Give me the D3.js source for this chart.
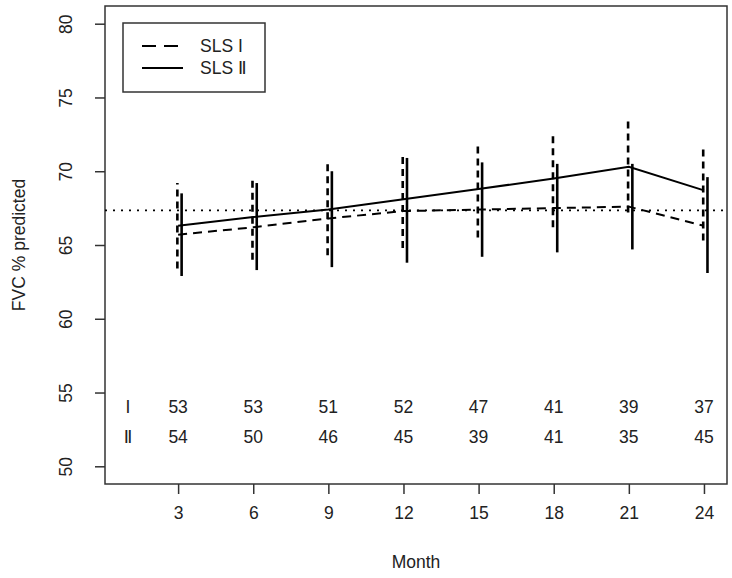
<!DOCTYPE html>
<html>
<head>
<meta charset="utf-8">
<script src="https://cdn.jsdelivr.net/npm/d3@7"></script>
<style>
  body { margin: 0; background: #fff; }
  text { font-family: "Liberation Sans", Arial, "DejaVu Sans", sans-serif; fill: #222; }
</style>
</head>
<body>
<div id="chart"></div>
<script>
// data
var months = [3, 6, 9, 12, 15, 18, 21, 24];
var sls1Mean = [65.7, 66.2, 66.8, 67.3, 67.4, 67.5, 67.6, 66.3];
var sls1Lo   = [63.4, 64.0, 64.3, 64.8, 65.5, 66.2, 67.2, 65.3];
var sls1Hi   = [69.2, 69.7, 70.5, 71.3, 72.0, 72.7, 73.5, 71.8];
var sls2Mean = [66.3, 66.9, 67.4, 68.1, 68.8, 69.5, 70.3, 68.7];
var sls2Lo   = [62.9, 63.3, 63.5, 63.8, 64.2, 64.5, 64.7, 63.1];
var sls2Hi   = [68.5, 69.2, 70.0, 70.9, 70.6, 70.5, 70.5, 69.6];
var nI  = [53, 53, 51, 52, 47, 41, 39, 37];
var nII = [54, 50, 46, 45, 39, 41, 35, 45];
var yTicks = [50, 55, 60, 65, 70, 75, 80];
var refLine = 67.35;
var seriesNames = ["SLS I", "SLS \u2161"];
var rowLabels = ["I", "\u2161"];

var W = 732, H = 578;
var box = {left: 105, right: 727, top: 6, bottom: 484};
var fs = "17.5px";

var svg = d3.select("#chart").append("svg")
    .attr("width", W)
    .attr("height", H);

var x = d3.scaleLinear().domain([0.08, 24.92]).range([box.left, box.right]);
var y = d3.scaleLinear().domain([48.8, 81.2]).range([box.bottom, box.top]);

const dash = "9,6";

// axes
const xAxis = d3.axisBottom(x).tickValues(months).tickSize(10).tickPadding(13);
const xg = svg.append("g").attr("transform", `translate(0, ${box.bottom})`).call(xAxis);
const yAxis = d3.axisLeft(y).tickValues(yTicks).tickSize(10).tickPadding(0);
const yg = svg.append("g").attr("transform", `translate(${box.left}, 0)`).call(yAxis);

[xg, yg].forEach(g => {
  g.select(".domain").remove();
  g.selectAll(".tick line").attr("stroke", "#333").attr("stroke-width", 1.5);
  g.selectAll(".tick text").attr("font-size", fs).attr("fill", "#222");
});
yg.selectAll(".tick text")
  .attr("x", null).attr("dy", null)
  .attr("text-anchor", "middle")
  .attr("transform", "translate(-39,0) rotate(-90)")
  .attr("dy", "0.35em");

// plot box
svg.append("rect")
  .attr("x", box.left).attr("y", box.top)
  .attr("width", box.right - box.left).attr("height", box.bottom - box.top)
  .attr("fill", "none").attr("stroke", "#333").attr("stroke-width", 1.5);

// axis titles
svg.append("text")
  .attr("transform", `translate(19, ${(box.top + box.bottom) / 2}) rotate(-90)`)
  .attr("text-anchor", "middle").attr("dy", "0.35em")
  .attr("font-size", fs)
  .text("FVC % predicted");
svg.append("text")
  .attr("x", (box.left + box.right) / 2).attr("y", 562)
  .attr("text-anchor", "middle").attr("dy", "0.35em")
  .attr("font-size", fs)
  .text("Month");

// reference dotted line
svg.append("line")
  .attr("x1", box.left).attr("x2", box.right)
  .attr("y1", y(refLine)).attr("y2", y(refLine))
  .attr("stroke", "#000").attr("stroke-width", 1.8)
  .attr("stroke-dasharray", "2,6");

// error bars
const barI = months.map((m, i) => ({m: m, lo: sls1Lo[i], hi: sls1Hi[i]}));
const barII = months.map((m, i) => ({m: m, lo: sls2Lo[i], hi: sls2Hi[i]}));

svg.append("g").selectAll("line").data(barI).join("line")
  .attr("x1", d => x(d.m - 0.03)).attr("x2", d => x(d.m - 0.03))
  .attr("y1", d => y(d.lo)).attr("y2", d => y(d.hi))
  .attr("stroke", "#000").attr("stroke-width", 2.6)
  .attr("stroke-dasharray", "7,5");

svg.append("g").selectAll("line").data(barII).join("line")
  .attr("x1", d => x(d.m + 0.14)).attr("x2", d => x(d.m + 0.14))
  .attr("y1", d => y(d.lo)).attr("y2", d => y(d.hi))
  .attr("stroke", "#000").attr("stroke-width", 2.6);

// mean lines
const line = d3.line().x(d => x(d[0])).y(d => y(d[1]));

svg.append("path")
  .datum(months.map((m, i) => [m, sls1Mean[i]]))
  .attr("d", line).attr("fill", "none")
  .attr("stroke", "#000").attr("stroke-width", 2)
  .attr("stroke-dasharray", dash);

svg.append("path")
  .datum(months.map((m, i) => [m, sls2Mean[i]]))
  .attr("d", line).attr("fill", "none")
  .attr("stroke", "#000").attr("stroke-width", 2);

// number at risk rows
const rows = [nI, nII];
const rowY = [54, 52];
rows.forEach((r, k) => {
  svg.append("text")
    .attr("x", x(1)).attr("y", y(rowY[k]))
    .attr("text-anchor", "middle").attr("dy", "0.35em")
    .attr("font-size", fs)
    .text(rowLabels[k]);
  svg.append("g").selectAll("text").data(r).join("text")
    .attr("x", (d, i) => x(months[i])).attr("y", y(rowY[k]))
    .attr("text-anchor", "middle").attr("dy", "0.35em")
    .attr("font-size", fs)
    .text(d => d);
});

// legend
const lg = svg.append("g").attr("transform", "translate(123, 23)");
lg.append("rect")
  .attr("width", 142).attr("height", 69)
  .attr("fill", "#fff").attr("stroke", "#333").attr("stroke-width", 1.5);
seriesNames.forEach((name, i) => {
  const ly = 23 + i * 22;
  lg.append("line")
    .attr("x1", 19).attr("x2", 60).attr("y1", ly).attr("y2", ly)
    .attr("stroke", "#000").attr("stroke-width", 2)
    .attr("stroke-dasharray", i === 0 ? "14,8" : null);
  lg.append("text")
    .attr("x", 77).attr("y", ly).attr("dy", "0.35em")
    .attr("font-size", fs)
    .text(name);
});
</script>
</body>
</html>
